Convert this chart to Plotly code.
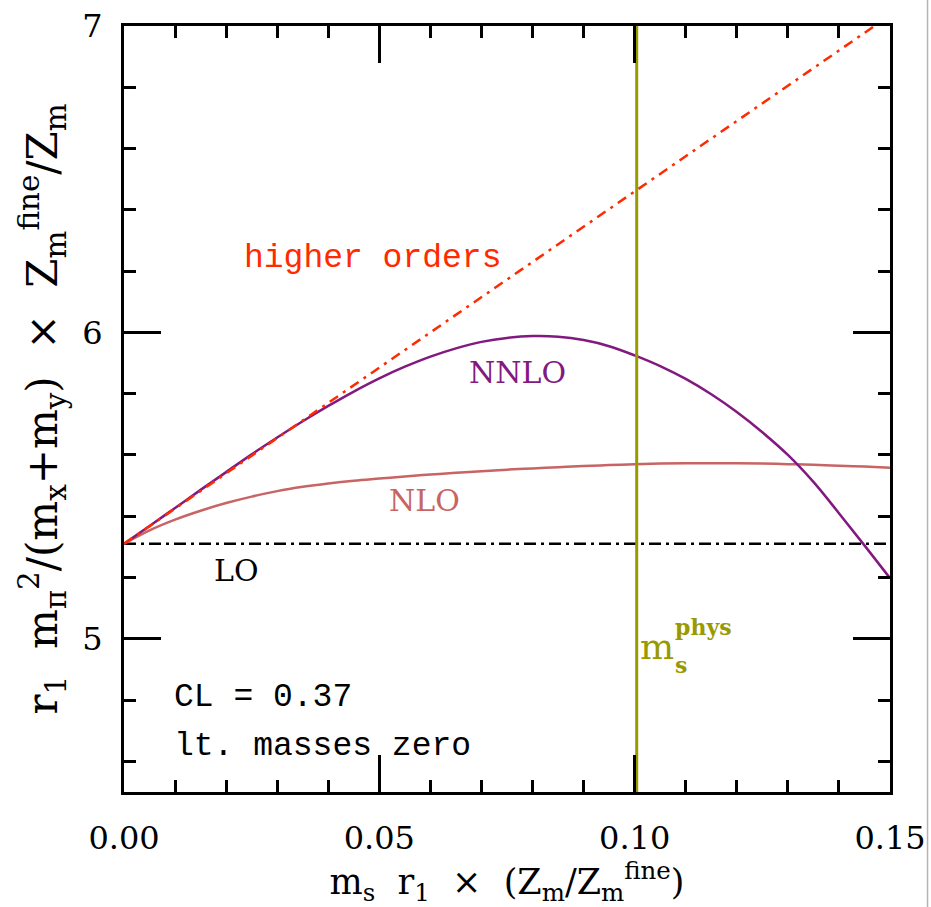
import plotly.graph_objects as go

# ---- data ----
x_grid = [0.0, 0.005, 0.01, 0.015, 0.02, 0.025, 0.03, 0.035, 0.04, 0.045, 0.05,
          0.055, 0.06, 0.065, 0.07, 0.075, 0.08, 0.085, 0.09, 0.095, 0.10,
          0.105, 0.11, 0.115, 0.12, 0.125, 0.13, 0.135, 0.14, 0.145, 0.15]
nnlo = [5.31, 5.368, 5.427, 5.486, 5.544, 5.602, 5.657, 5.710, 5.760, 5.807, 5.850,
        5.888, 5.921, 5.948, 5.969, 5.982, 5.988, 5.986, 5.975, 5.955, 5.925,
        5.890, 5.848, 5.798, 5.740, 5.674, 5.600, 5.512, 5.410, 5.305, 5.198]
nlo = [5.310, 5.354, 5.389, 5.418, 5.443, 5.464, 5.482, 5.496, 5.507, 5.516, 5.523,
       5.530, 5.536, 5.542, 5.547, 5.552, 5.556, 5.560, 5.564, 5.567, 5.570,
       5.572, 5.573, 5.573, 5.573, 5.572, 5.570, 5.568, 5.565, 5.562, 5.558]
higher_x = [0.0, 0.15]
higher_y = [5.31, 7.035]
lo_x = [0.0, 0.15]
lo_y = [5.31, 5.31]
ms_phys = 0.1004
x_tickvals = [0.0, 0.05, 0.10, 0.15]
x_ticktext = ["0.00", "0.05", "0.10", "0.15"]
y_tickvals = [5, 6, 7]
y_ticktext = ["5", "6", "7"]

C_HIGH = "#ff2a00"
C_NNLO = "#82197f"
C_NLO = "#c86464"
C_PHYS = "#999900"

SERIF = "DejaVu Serif"
MONO = "Liberation Mono"

fig = go.Figure()
fig.add_trace(go.Scatter(x=lo_x, y=lo_y, mode="lines",
                         line=dict(color="black", width=2.5, dash="12px,5px,3px,5px")))
fig.add_trace(go.Scatter(x=x_grid, y=nlo, mode="lines", line_shape="spline",
                         line=dict(color=C_NLO, width=2.5)))
fig.add_trace(go.Scatter(x=x_grid, y=nnlo, mode="lines", line_shape="spline",
                         line=dict(color=C_NNLO, width=2.5)))
fig.add_trace(go.Scatter(x=higher_x, y=higher_y, mode="lines",
                         line=dict(color=C_HIGH, width=2.5, dash="10px,6px,3px,6px")))
fig.add_trace(go.Scatter(x=[ms_phys, ms_phys], y=[4.5, 7.0], mode="lines",
                         line=dict(color=C_PHYS, width=3)))

axis_common = dict(showgrid=False, zeroline=False, showline=True, linecolor="black",
                   linewidth=3, ticks="inside", mirror="ticks", tickcolor="black",
                   tickwidth=2.5, ticklen=37, automargin=False,
                   tickfont=dict(family=SERIF, size=32, color="black"))

fig.update_xaxes(**axis_common, range=[0, 0.15], tickvals=x_tickvals, ticktext=x_ticktext,
                 minor=dict(dtick=0.01, tick0=0, ticklen=12, tickwidth=2.5,
                            ticks="inside", tickcolor="black", showgrid=False),
                 ticklabelstandoff=16,
                 title=dict(text="m<sub>s</sub>  r<sub>1</sub>  ×  (Z<sub>m</sub>/Z<sub>m</sub><sup>fine</sup>)",
                            font=dict(family=SERIF, size=35, color="black"), standoff=0))
fig.update_yaxes(**axis_common, range=[4.5, 7.0], tickvals=y_tickvals, ticktext=y_ticktext,
                 minor=dict(dtick=0.2, tick0=5, ticklen=12, tickwidth=2.5,
                            ticks="inside", tickcolor="black", showgrid=False),
                 ticklabelstandoff=12,
                 title=dict(text="r<sub>1</sub>  m<sub>π</sub><sup>2</sup>/(m<sub>x</sub>+m<sub>y</sub>)  ×  Z<sub>m</sub><sup>fine</sup>/Z<sub>m</sub>",
                            font=dict(family=SERIF, size=42, color="black"), standoff=12))

ann = [
    dict(x=0.0486, y=6.242, text="higher orders", font=dict(family=MONO, size=33, color=C_HIGH),
         xanchor="center", yanchor="middle"),
    dict(x=0.0770, y=5.869, text="NNLO", font=dict(family=SERIF, size=30, color=C_NNLO),
         xanchor="center", yanchor="middle"),
    dict(x=0.0589, y=5.451, text="NLO", font=dict(family=SERIF, size=30, color=C_NLO),
         xanchor="center", yanchor="middle"),
    dict(x=0.0221, y=5.222, text="LO", font=dict(family=SERIF, size=30, color="black"),
         xanchor="center", yanchor="middle"),
    dict(x=0.0094, y=4.807, text="CL = 0.37", font=dict(family=MONO, size=33, color="black"),
         xanchor="left", yanchor="middle"),
    dict(x=0.0094, y=4.650, text="lt. masses zero", font=dict(family=MONO, size=33, color="black"),
         xanchor="left", yanchor="middle"),
    dict(x=ms_phys, y=4.975, text="m", font=dict(family=SERIF, size=36, color=C_PHYS),
         xanchor="left", yanchor="middle", xshift=1),
    dict(x=0.1076, y=5.04, text="<b>phys</b>", font=dict(family=SERIF, size=22, color=C_PHYS),
         xanchor="left", yanchor="middle"),
    dict(x=0.1076, y=4.915, text="<b>s</b>", font=dict(family=SERIF, size=22, color=C_PHYS),
         xanchor="left", yanchor="middle"),
]
for a in ann:
    a["showarrow"] = False
    a["xref"] = "x"
    a["yref"] = "y"
fig.update_layout(annotations=ann)

fig.add_shape(type="line", xref="paper", yref="paper", x0=1.049, x1=1.049, y0=-0.2, y1=1.1,
              line=dict(color="#b4b4b4", width=1.5))

fig.update_layout(width=931, height=907, showlegend=False,
                  margin=dict(l=124, r=41, t=26, b=115, autoexpand=False),
                  plot_bgcolor="white", paper_bgcolor="white")

fig.write_html("out.html")
